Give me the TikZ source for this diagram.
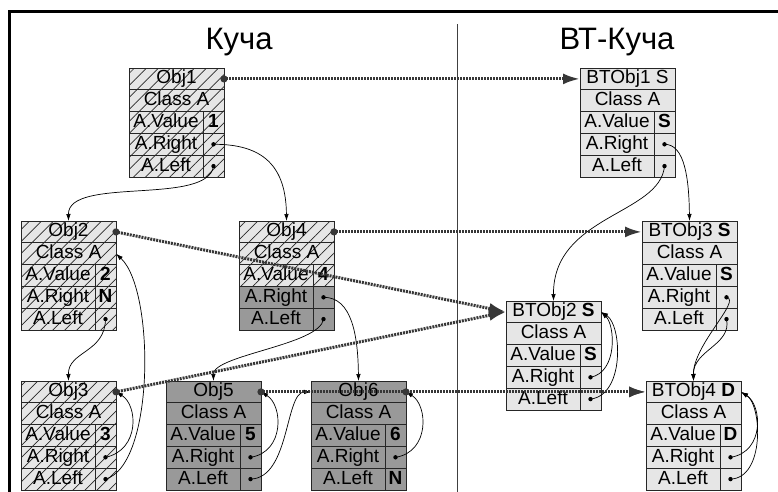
\documentclass[tikz,border=0pt]{standalone}
\usepackage{fontspec}
\setmainfont{Liberation Sans}
\usetikzlibrary{arrows.meta,patterns.meta}
\definecolor{lightfill}{RGB}{230,230,230}
\definecolor{darkfill}{RGB}{153,153,153}
\definecolor{hatchline}{RGB}{40,40,40}
\definecolor{dotline}{RGB}{55,55,55}
\tikzset{
  cellbase/.style={draw=black!85, line width=0.8pt, inner sep=0pt, outer sep=0pt,
    minimum height=21.8pt, font=\fontsize{19}{21}\selectfont, text height=13.5pt, text depth=3.5pt},
  cellw/.style={minimum width=95pt},
  celll/.style={minimum width=74pt},
  cellr/.style={minimum width=21pt},
  hat/.style={fill=lightfill, postaction={pattern={Lines[angle=45,distance=8.5pt,line width=0.7pt]}, pattern color=hatchline}},
  dark/.style={fill=darkfill},
  light/.style={fill=lightfill},
  link/.style={draw=black, line width=0.7pt, -{Latex[length=7pt,width=4.5pt]}},
  dotlink/.style={draw=dotline, line width=3pt, dash pattern=on 2pt off 1pt,
    {Circle[length=7pt,sep=-3.5pt]}-{Latex[length=17pt,width=11pt]}},
  ptrdot/.style={fill=black},
  title/.style={font=\fontsize{31}{34}\selectfont, anchor=base, inner sep=0pt}
}
\newcommand\objrec[9]{%
  \node[cellbase,cellw,#4,anchor=north west] (#1-h) at (#2,#3) {#6};
  \node[cellbase,cellw,#4,anchor=north] (#1-c) at (#1-h.south) {Class A};
  \node[cellbase,celll,#4,anchor=north west] (#1-vl) at (#1-c.south west) {A.Value};
  \node[cellbase,cellr,#4,anchor=north west] (#1-vr) at (#1-vl.north east) {\bfseries #7};
  \node[cellbase,celll,#5,anchor=north west] (#1-rl) at (#1-vl.south west) {A.Right};
  \node[cellbase,cellr,#5,anchor=north west] (#1-rr) at (#1-rl.north east) {#8};
  \node[cellbase,celll,#5,anchor=north west] (#1-ll) at (#1-rl.south west) {A.Left};
  \node[cellbase,cellr,#5,anchor=north west] (#1-lr) at (#1-ll.north east) {#9};
}
\begin{document}
\begin{tikzpicture}[x=1pt,y=-1pt]
\useasboundingbox (0,0) rectangle (778,491);
\fill[white] (0,0) rectangle (778,491);
% frame and divider
\draw[line width=3pt] (9.5,495) -- (9.5,11) -- (782,11);
\draw[black!75, line width=1pt] (457,24) -- (457,495);
% titles
\node[title] (t1) at (239,49) {Куча};
\node[title] (t2) at (617,49) {ВТ-Куча};
% objects
\objrec{o1}{129}{68}{hat}{hat}{Obj1}{1}{}{}
\objrec{o2}{21}{221}{hat}{hat}{Obj2}{2}{\textbf{N}}{}
\objrec{o3}{21}{381}{hat}{hat}{Obj3}{3}{}{}
\objrec{o4}{239}{221}{hat}{dark}{Obj4}{4}{}{}
\objrec{o5}{166}{381}{dark}{dark}{Obj5}{5}{}{}
\objrec{o6}{311}{381}{dark}{dark}{Obj6}{6}{}{\textbf{N}}
\objrec{b1}{580}{68}{light}{light}{BTObj1 S}{S}{}{}
\objrec{b3}{642}{221}{light}{light}{BTObj3 \textbf{S}}{S}{}{}
\objrec{b2}{506}{301}{light}{light}{BTObj2 \textbf{S}}{S}{}{}
\objrec{b4}{646}{381}{light}{light}{BTObj4 \textbf{D}}{D}{}{}
% pointer dots
\foreach \c in {o1-rr,o1-lr,o2-lr,o3-rr,o3-lr,o4-rr,o4-lr,o5-rr,o5-lr,o6-rr,
                b1-rr,b1-lr,b2-rr,b2-lr,b3-rr,b3-lr,b4-rr,b4-lr}
  \fill[ptrdot] (\c.center) circle[radius=2.2pt];
% solid pointer links
\draw[link] (o1-rr.center) .. controls (263,144) and (286,166) .. (o4-h.north);
\draw[link] (o1-lr.center) .. controls (208,206) and (68,176) .. (o2-h.north);
\draw[link] (o2-lr.center) .. controls (105,353) and (68,351) .. (o3-h.north);
\draw[link] (o3-lr.center) .. controls (155,465) and (155,290) .. (o2-c.east);
\draw[link] (o3-rr.center) .. controls (140,450) and (138,405) .. (o3-h.east);
\draw[link] (o4-rr.center) .. controls (352,297) and (358,336) .. (o6-h.north);
\draw[link] (o4-lr.center) .. controls (320,345) and (213,355) .. (o5-h.north);
\draw[link] (o5-rr.center) .. controls (285,452) and (283,405) .. (o5-h.east);
\draw[link] (o5-lr.center) .. controls (290,478) and (285,392) .. (o6-h.west);
\draw[link] (o6-rr.center) .. controls (430,452) and (428,405) .. (o6-h.east);
\draw[link] (b1-rr.center) .. controls (685,144) and (689,180) .. (b3-h.north);
\draw[link] (b1-lr.center) .. controls (660,215) and (553,215) .. (b2-h.north);
\draw[link] (b2-rr.center) .. controls (618,372) and (615,325) .. (b2-h.east);
\draw[link] (b2-lr.center) .. controls (625,395) and (622,325) .. (b2-h.east);
\draw[link] (b3-rr.center) .. controls (742,300) and (693,345) .. (b4-h.north);
\draw[link] (b3-lr.center) .. controls (732,345) and (693,350) .. (b4-h.north);
\draw[link] (b4-rr.center) .. controls (765,452) and (762,405) .. (b4-h.east);
\draw[link] (b4-lr.center) .. controls (765,478) and (762,405) .. (b4-h.east);
% mapping links (dotted)
\draw[dotlink] (o1-h.east) -- (b1-h.west);
\draw[dotlink] (o4-h.east) -- (b3-h.west);
\draw[dotlink] (o2-h.east) -- (b2-h.west);
\draw[dotlink] (o3-h.east) -- (b2-h.west);
\draw[dotlink] (o5-h.east) -- (b4-h.west);
\draw[dotlink, dash phase=1pt] (o6-h.east) -- (b4-h.west);
\end{tikzpicture}
\end{document}
